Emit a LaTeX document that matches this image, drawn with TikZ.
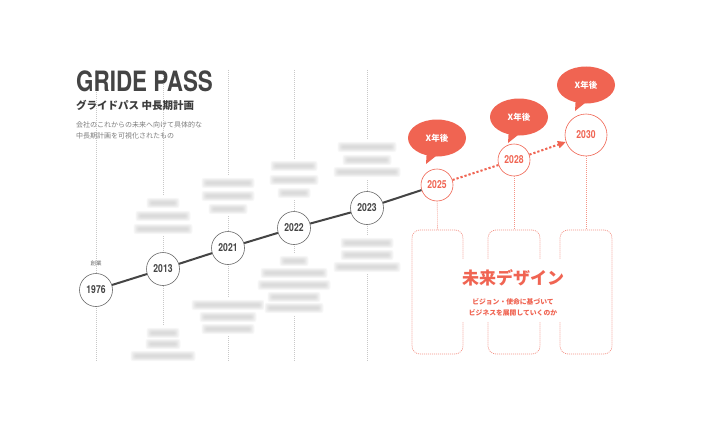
\documentclass[tikz,border=0pt]{standalone}
\usepackage{fontspec}
\setmainfont{Noto Sans CJK JP}
\newfontfamily\heros{TeX Gyre Heros}
\usetikzlibrary{arrows.meta,shapes.geometric}
\definecolor{accent}{RGB}{240,100,82}
\definecolor{ink}{RGB}{68,68,68}
\definecolor{guide}{RGB}{200,200,200}
\newcommand{\yrtxt}[1]{\scalebox{0.78}[1]{\heros\bfseries #1}}
\newcommand{\blurline}[3]{%
  \foreach \k in {0,1,2,3,4,5} {%
    \fill[gray!60,opacity=0.09,rounded corners=2.5pt] (#1-#3/2-\k*0.9,#2-1.2-\k*0.8) rectangle (#1+#3/2+\k*0.9,#2+1.2+\k*0.8);}}
\newcommand{\blurblock}[2]{%
  \foreach \yy/\ww in {#2} {\fill[white] (#1-\ww/2-5,\yy-7) rectangle (#1+\ww/2+5,\yy+7);}
  \foreach \yy/\ww in {#2} {\blurline{#1}{\yy}{\ww}}}
\begin{document}
\begin{tikzpicture}[x=1pt,y=-1pt,
  yearcirc/.style={circle,draw=ink!80,line width=0.6pt,fill=white,minimum size=33pt,inner sep=0pt,text=ink,font=\fontsize{11}{11}\selectfont},
  futcirc/.style={yearcirc,draw=accent,text=accent,minimum size=32pt},
  guideline/.style={guide,line width=0.6pt,dash pattern=on 1pt off 1pt},
  redguide/.style={accent!70,line width=0.6pt,dash pattern=on 1pt off 1pt},
  futbox/.style={draw=accent!70,line width=0.7pt,dash pattern=on 1pt off 1pt,rounded corners=8pt},
  bubble/.style={ellipse,fill=accent,minimum width=58pt,minimum height=37pt,inner sep=0pt,text=white,font=\fontsize{8.5}{8.5}\selectfont\bfseries},
  timeline/.style={ink,line width=2pt},
  futdots/.style={accent,line width=2pt,dash pattern=on 2.2pt off 2pt},
  graytext/.style={text=ink!80,inner sep=0pt}
]
\useasboundingbox (0,0) rectangle (720,428);
\fill[white] (0,0) rectangle (720,428);

% guide lines
\foreach \gx in {96,163,228,294,367} {\draw[guideline] (\gx,70) -- (\gx,362);}

% title
\node[anchor=base west,inner sep=0pt,text=ink] (title) at (76,92) {\scalebox{0.8}[1]{\fontsize{28}{28}\selectfont\heros\bfseries GRIDE PASS}};
\node[anchor=base west,inner sep=0pt,text=ink!90!black] (subtitle) at (76,109.5) {\fontsize{10.5}{10.5}\selectfont\bfseries グライドパス 中長期計画};
\node[anchor=west,inner sep=0pt,text=ink!70,align=left] (desc1) at (76,125) {\fontsize{7}{7}\selectfont 会社のこれからの未来へ向けて具体的な};
\node[anchor=west,inner sep=0pt,text=ink!70,align=left] (desc2) at (76,135.5) {\fontsize{7}{7}\selectfont 中長期計画を可視化されたもの};

% blurred text blocks
\blurblock{163}{203/24,216/46,229/50}
\blurblock{228}{183/44,196/44,209/30}
\blurblock{294}{166/38,180/40,193/24}
\blurblock{367}{147/50,160/40,172/58}
\blurblock{163}{333/24,344/26,356/56}
\blurblock{228}{305/64,317/48,329/44}
\blurblock{294}{261/20,273/58,285/64,297/44,308/50}
\blurblock{367}{243/44,255/44,267/58}

% year circles
\node[yearcirc] (c1976) at (96,290) {\yrtxt{1976}};
\node[yearcirc] (c2013) at (163,269) {\yrtxt{2013}};
\node[yearcirc] (c2021) at (228,248) {\yrtxt{2021}};
\node[yearcirc] (c2022) at (294,228) {\yrtxt{2022}};
\node[yearcirc] (c2023) at (367,208) {\yrtxt{2023}};
\node[futcirc] (c2025) at (437,185) {\yrtxt{2025}};
\node[futcirc] (c2028) at (514,160) {\yrtxt{2028}};
\node[futcirc,minimum size=42pt] (c2030) at (586,135) {\yrtxt{2030}};

\node[graytext,font=\fontsize{5.5}{5.5}\selectfont] (found) at (96,263) {創業};

% timeline
\draw[timeline] (c1976) -- (c2013);
\draw[timeline] (c2013) -- (c2021);
\draw[timeline] (c2021) -- (c2022);
\draw[timeline] (c2022) -- (c2023);
\draw[timeline] (c2023) -- (c2025);
\draw[futdots] (c2025) -- (c2028);
\draw[futdots,-{Triangle[length=8pt,width=7pt]}] (c2028) -- (c2030);

% future boxes
\node[futbox,minimum width=51pt,minimum height=124pt,inner sep=0pt] (box1) at (437.5,292) {};
\node[futbox,minimum width=52pt,minimum height=124pt,inner sep=0pt] (box2) at (514,292) {};
\node[futbox,minimum width=52pt,minimum height=124pt,inner sep=0pt] (box3) at (586,292) {};
\draw[redguide] (c2025) -- (box1.north);
\draw[redguide] (c2028) -- (box2.north);
\draw[redguide] (c2030) -- (box3.north);

\fill[white] (459,259) rectangle (566,322);
\node[text=accent,inner sep=0pt,font=\fontsize{17}{17}\selectfont\bfseries] (future) at (513,278) {未来デザイン};
\node[text=accent,inner sep=0pt,align=center,font=\fontsize{6.8}{11}\selectfont\bfseries] (futuresub) at (513,307.5) {ビジョン・使命に基づいて\\ビジネスを展開していくのか};

% bubbles
\foreach \b/\bx/\by in {b1/437/138, b2/519/117, b3/586/85} {
  \node[bubble] (\b) at (\bx,\by) {X年後};
  \fill[accent] ([shift={(-10,10)}]\b.center) -- ([shift={(4,14)}]\b.center) -- ([shift={(-11,26)}]\b.center) -- cycle;
}
\end{tikzpicture}
\end{document}
